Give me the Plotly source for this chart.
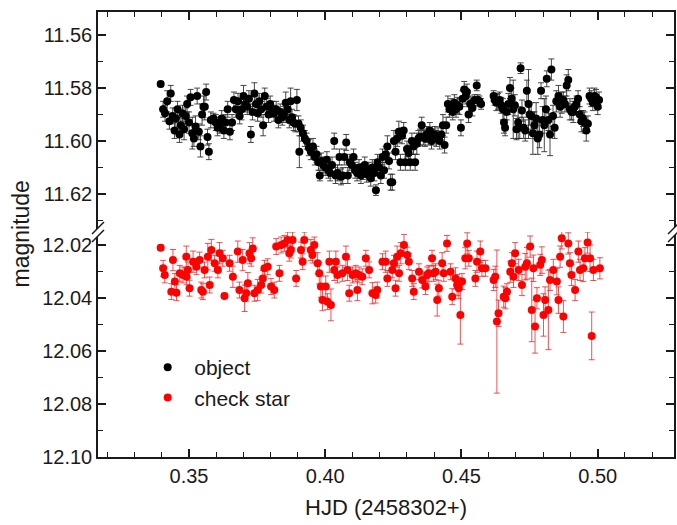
import plotly.graph_objects as go

# ---------------- data ----------------
obj_x = [
    0.3396, 0.3405, 0.3412, 0.3420, 0.3428, 0.3433, 0.3440, 0.3447, 0.3452, 0.3458,
    0.3465, 0.3470, 0.3476, 0.3482, 0.3488, 0.3493, 0.3500, 0.3506, 0.3512, 0.3518,
    0.3524, 0.3530, 0.3536, 0.3542, 0.3548, 0.3553, 0.3558, 0.3563, 0.3568, 0.3573,
    0.3580, 0.3590, 0.3598, 0.3605, 0.3612, 0.3620, 0.3628, 0.3635, 0.3642, 0.3650,
    0.3658, 0.3665, 0.3672, 0.3680, 0.3686, 0.3693, 0.3700, 0.3707, 0.3714, 0.3720,
    0.3727, 0.3733, 0.3740, 0.3746, 0.3752, 0.3758, 0.3765, 0.3772, 0.3778, 0.3785,
    0.3792, 0.3798, 0.3805, 0.3812, 0.3820, 0.3828, 0.3835, 0.3842, 0.3848, 0.3855,
    0.3862, 0.3868, 0.3873, 0.3878, 0.3884, 0.3890, 0.3896, 0.3902, 0.3905, 0.3910,
    0.3918, 0.3925, 0.3932, 0.3940, 0.3947, 0.3955, 0.3962, 0.3968, 0.3975, 0.3980,
    0.3985, 0.3992, 0.4000, 0.4006, 0.4012, 0.4018, 0.4025, 0.4033, 0.4038, 0.4045,
    0.4052, 0.4058, 0.4064, 0.4070, 0.4077, 0.4083, 0.4090, 0.4097, 0.4104, 0.4110,
    0.4117, 0.4124, 0.4131, 0.4138, 0.4145, 0.4152, 0.4160, 0.4167, 0.4173, 0.4180,
    0.4186, 0.4192, 0.4198, 0.4204, 0.4210, 0.4216, 0.4222, 0.4228, 0.4234, 0.4240,
    0.4246, 0.4252, 0.4258, 0.4264, 0.4270, 0.4276, 0.4282, 0.4288, 0.4294, 0.4300,
    0.4306, 0.4312, 0.4318, 0.4324, 0.4330, 0.4336, 0.4342, 0.4348, 0.4354, 0.4360,
    0.4366, 0.4372, 0.4378, 0.4384, 0.4390, 0.4396, 0.4402, 0.4408, 0.4414, 0.4420,
    0.4426, 0.4432, 0.4438, 0.4444, 0.4450, 0.4456, 0.4462, 0.4468, 0.4474, 0.4480,
    0.4486, 0.4492, 0.4498, 0.4504, 0.4510, 0.4516, 0.4520, 0.4526, 0.4532, 0.4540,
    0.4548, 0.4556, 0.4560, 0.4566, 0.4572, 0.4618, 0.4622, 0.4628, 0.4634, 0.4640,
    0.4646, 0.4652, 0.4656, 0.4660, 0.4666, 0.4672, 0.4678, 0.4684, 0.4690, 0.4696,
    0.4702, 0.4708, 0.4714, 0.4717, 0.4722, 0.4728, 0.4734, 0.4740, 0.4746, 0.4750,
    0.4756, 0.4762, 0.4768, 0.4774, 0.4780, 0.4786, 0.4792, 0.4798, 0.4804, 0.4810,
    0.4813, 0.4819, 0.4825, 0.4830, 0.4836, 0.4842, 0.4848, 0.4856, 0.4862, 0.4868,
    0.4874, 0.4880, 0.4886, 0.4892, 0.4898, 0.4904, 0.4910, 0.4916, 0.4922, 0.4928,
    0.4934, 0.4940, 0.4946, 0.4952, 0.4958, 0.4964, 0.4970, 0.4976, 0.4982, 0.4988,
    0.4994, 0.5000, 0.5005,
]
obj_mag = [
    11.5785, 11.5880, 11.5895, 11.5850, 11.5925, 11.5820, 11.5905, 11.5960, 11.5915, 11.5880,
    11.5975, 11.5940, 11.5895, 11.5955, 11.5905, 11.5860, 11.5930, 11.5835, 11.5970, 11.5990,
    11.5945, 11.5830, 11.5965, 11.6020, 11.5900, 11.5870, 11.5870, 11.5815, 11.5985, 11.6040,
    11.5920, 11.5915, 11.5930, 11.5950, 11.5940, 11.5915, 11.5960, 11.5930, 11.5880, 11.5965,
    11.5930, 11.5845, 11.5880, 11.5850, 11.5905, 11.5880, 11.5830, 11.5860, 11.5870, 11.5840,
    11.5975, 11.5890, 11.5820, 11.5860, 11.5895, 11.5850, 11.5880, 11.5940, 11.5830, 11.5870,
    11.5900, 11.5860, 11.5880, 11.5895, 11.5880, 11.5920, 11.5890, 11.5910, 11.5900, 11.5855,
    11.5880, 11.5920, 11.5850, 11.5910, 11.5930, 11.5935, 11.5845, 11.5935, 11.6040, 11.5950,
    11.5970, 11.5990, 11.6000, 11.6025, 11.6040, 11.6020, 11.6060, 11.6050, 11.6080, 11.6130,
    11.6075, 11.6090, 11.6100, 11.6070, 11.6110, 11.6120, 11.6090, 11.6000, 11.6130, 11.6120,
    11.6060, 11.6135, 11.6130, 11.6060, 11.6005, 11.6130, 11.6080, 11.6090, 11.6060, 11.6110,
    11.6120, 11.6100, 11.6130, 11.6115, 11.6090, 11.6125, 11.6110, 11.6140, 11.6100, 11.6120,
    11.6185, 11.6080, 11.6100, 11.6130, 11.6060, 11.6110, 11.6050, 11.6020, 11.6075, 11.6155,
    11.6155, 11.6000, 11.6040, 11.5990, 11.5965, 11.6080, 11.5980, 11.5960, 11.6080, 11.6030,
    11.6045, 11.6080, 11.6000, 11.6020, 11.6080, 11.6010, 11.5990, 11.5985, 11.5940, 11.5985,
    11.5990, 11.5975, 11.5985, 11.5960, 11.6000, 11.5985, 11.5975, 11.5990, 11.5980, 11.6000,
    11.5975, 11.5940, 11.6015, 11.5940, 11.5860, 11.5880, 11.5870, 11.5890, 11.5855, 11.5880,
    11.5865, 11.5870, 11.5950, 11.5840, 11.5805, 11.5830, 11.5815, 11.5900, 11.5860, 11.5875,
    11.5845, 11.5790, 11.5845, 11.5850, 11.5860, 11.5830, 11.5845, 11.5855, 11.5850, 11.5845,
    11.5865, 11.5880, 11.5930, 11.5950, 11.5890, 11.5860, 11.5800, 11.5840, 11.5880, 11.5865,
    11.5955, 11.5930, 11.5950, 11.5725, 11.5885, 11.5950, 11.5960, 11.5810, 11.5860, 11.5900,
    11.5905, 11.5970, 11.5940, 11.5915, 11.5990, 11.5975, 11.5810, 11.5920, 11.5940, 11.5880,
    11.5765, 11.5920, 11.5975, 11.5730, 11.5905, 11.5950, 11.5850, 11.5830, 11.5870, 11.5855,
    11.5845, 11.5860, 11.5790, 11.5770, 11.5880, 11.5890, 11.5890, 11.5870, 11.5860, 11.5840,
    11.5900, 11.5925, 11.5915, 11.5930, 11.5960, 11.5935, 11.5830, 11.5840, 11.5855, 11.5830,
    11.5835, 11.5870, 11.5845,
]
obj_err = [
    0.001, 0.003, 0.003, 0.004, 0.003, 0.003, 0.003, 0.003, 0.004, 0.003,
    0.003, 0.003, 0.003, 0.004, 0.003, 0.003, 0.004, 0.003, 0.006, 0.003,
    0.004, 0.003, 0.003, 0.004, 0.004, 0.004, 0.005, 0.003, 0.003, 0.003,
    0.003, 0.002, 0.003, 0.003, 0.003, 0.003, 0.003, 0.003, 0.003, 0.003,
    0.003, 0.003, 0.003, 0.003, 0.003, 0.004, 0.004, 0.003, 0.003, 0.003,
    0.003, 0.003, 0.004, 0.003, 0.003, 0.003, 0.003, 0.004, 0.003, 0.003,
    0.003, 0.003, 0.003, 0.003, 0.003, 0.003, 0.003, 0.003, 0.003, 0.004,
    0.003, 0.003, 0.005, 0.003, 0.003, 0.003, 0.004, 0.003, 0.006, 0.003,
    0.003, 0.003, 0.003, 0.003, 0.003, 0.003, 0.003, 0.003, 0.003, 0.002,
    0.003, 0.003, 0.003, 0.003, 0.003, 0.003, 0.003, 0.003, 0.003, 0.003,
    0.003, 0.003, 0.003, 0.003, 0.003, 0.003, 0.003, 0.003, 0.003, 0.003,
    0.003, 0.003, 0.003, 0.003, 0.003, 0.003, 0.003, 0.003, 0.003, 0.003,
    0.002, 0.003, 0.003, 0.003, 0.003, 0.003, 0.003, 0.004, 0.003, 0.003,
    0.003, 0.004, 0.003, 0.003, 0.004, 0.003, 0.003, 0.003, 0.003, 0.003,
    0.003, 0.003, 0.003, 0.003, 0.003, 0.004, 0.003, 0.003, 0.003, 0.003,
    0.003, 0.003, 0.003, 0.003, 0.003, 0.003, 0.003, 0.003, 0.003, 0.003,
    0.003, 0.004, 0.003, 0.003, 0.003, 0.003, 0.003, 0.003, 0.003, 0.003,
    0.003, 0.003, 0.003, 0.003, 0.003, 0.003, 0.003, 0.003, 0.003, 0.003,
    0.002, 0.002, 0.002, 0.002, 0.002, 0.002, 0.002, 0.003, 0.003, 0.003,
    0.003, 0.004, 0.004, 0.003, 0.003, 0.004, 0.004, 0.004, 0.011, 0.004,
    0.004, 0.006, 0.004, 0.002, 0.004, 0.004, 0.004, 0.004, 0.013, 0.004,
    0.005, 0.008, 0.005, 0.006, 0.006, 0.005, 0.003, 0.005, 0.010, 0.005,
    0.003, 0.004, 0.008, 0.004, 0.004, 0.004, 0.004, 0.004, 0.004, 0.004,
    0.003, 0.003, 0.004, 0.004, 0.004, 0.003, 0.004, 0.003, 0.003, 0.003,
    0.003, 0.004, 0.003, 0.004, 0.004, 0.003, 0.003, 0.003, 0.003, 0.003,
    0.003, 0.003, 0.003,
]

chk_x = [
    0.3396, 0.3405, 0.3411, 0.3435, 0.3441, 0.3448, 0.3454, 0.3466, 0.3478, 0.3490,
    0.3491, 0.3496, 0.3502, 0.3515, 0.3527, 0.3539, 0.3545, 0.3551, 0.3557, 0.3569,
    0.3576, 0.3582, 0.3594, 0.3606, 0.3612, 0.3624, 0.3630, 0.3649, 0.3661, 0.3679,
    0.3685, 0.3697, 0.3704, 0.3710, 0.3716, 0.3722, 0.3728, 0.3734, 0.3740, 0.3752,
    0.3765, 0.3771, 0.3777, 0.3789, 0.3801, 0.3813, 0.3820, 0.3832, 0.3838, 0.3850,
    0.3862, 0.3868, 0.3874, 0.3880, 0.3893, 0.3911, 0.3917, 0.3923, 0.3947, 0.3953,
    0.3960, 0.3972, 0.3978, 0.3984, 0.3990, 0.4002, 0.4008, 0.4015, 0.4021, 0.4033,
    0.4039, 0.4045, 0.4063, 0.4076, 0.4082, 0.4088, 0.4100, 0.4112, 0.4118, 0.4124,
    0.4136, 0.4149, 0.4161, 0.4173, 0.4185, 0.4191, 0.4210, 0.4222, 0.4228, 0.4246,
    0.4252, 0.4258, 0.4264, 0.4271, 0.4277, 0.4289, 0.4301, 0.4307, 0.4319, 0.4325,
    0.4344, 0.4356, 0.4368, 0.4374, 0.4380, 0.4392, 0.4398, 0.4405, 0.4411, 0.4417,
    0.4429, 0.4435, 0.4447, 0.4460, 0.4466, 0.4478, 0.4484, 0.4490, 0.4496, 0.4502,
    0.4514, 0.4521, 0.4527, 0.4551, 0.4557, 0.4569, 0.4575, 0.4588, 0.4618, 0.4624,
    0.4630, 0.4636, 0.4655, 0.4661, 0.4667, 0.4679, 0.4685, 0.4691, 0.4697, 0.4710,
    0.4722, 0.4734, 0.4740, 0.4752, 0.4758, 0.4764, 0.4770, 0.4777, 0.4789, 0.4795,
    0.4801, 0.4807, 0.4819, 0.4825, 0.4837, 0.4850, 0.4856, 0.4862, 0.4868, 0.4874,
    0.4892, 0.4898, 0.4904, 0.4917, 0.4929, 0.4935, 0.4947, 0.4953, 0.4963, 0.4972,
    0.4978, 0.4984, 0.5008,
]
chk_mag = [
    12.0210, 12.0288, 12.0313, 12.0376, 12.0257, 12.0338, 12.0380, 12.0307, 12.0313, 12.0244,
    12.0320, 12.0294, 12.0363, 12.0263, 12.0282, 12.0257, 12.0370, 12.0376, 12.0294, 12.0244,
    12.0351, 12.0219, 12.0269, 12.0294, 12.0231, 12.0250, 12.0392, 12.0269, 12.0320, 12.0225,
    12.0370, 12.0257, 12.0401, 12.0382, 12.0344, 12.0231, 12.0250, 12.0213, 12.0382, 12.0370,
    12.0351, 12.0326, 12.0288, 12.0282, 12.0357, 12.0370, 12.0206, 12.0307, 12.0200, 12.0194,
    12.0181, 12.0231, 12.0219, 12.0181, 12.0326, 12.0219, 12.0263, 12.0181, 12.0219, 12.0238,
    12.0200, 12.0269, 12.0307, 12.0357, 12.0408, 12.0357, 12.0414, 12.0263, 12.0426, 12.0294,
    12.0263, 12.0313, 12.0307, 12.0244, 12.0294, 12.0382, 12.0313, 12.0307, 12.0370, 12.0313,
    12.0320, 12.0250, 12.0294, 12.0382, 12.0389, 12.0370, 12.0263, 12.0263, 12.0326, 12.0294,
    12.0269, 12.0363, 12.0244, 12.0307, 12.0231, 12.0200, 12.0238, 12.0263, 12.0326, 12.0376,
    12.0301, 12.0332, 12.0357, 12.0313, 12.0307, 12.0250, 12.0307, 12.0301, 12.0408, 12.0363,
    12.0269, 12.0307, 12.0194, 12.0301, 12.0395, 12.0326, 12.0351, 12.0363, 12.0464, 12.0338,
    12.0250, 12.0194, 12.0250, 12.0326, 12.0263, 12.0225, 12.0288, 12.0288, 12.0332, 12.0320,
    12.0489, 12.0458, 12.0395, 12.0401, 12.0376, 12.0301, 12.0269, 12.0320, 12.0231, 12.0294,
    12.0351, 12.0282, 12.0269, 12.0206, 12.0445, 12.0288, 12.0508, 12.0401, 12.0275, 12.0257,
    12.0464, 12.0408, 12.0445, 12.0332, 12.0294, 12.0338, 12.0408, 12.0244, 12.0175, 12.0470,
    12.0194, 12.0269, 12.0313, 12.0370, 12.0225, 12.0294, 12.0288, 12.0250, 12.0191, 12.0250,
    12.0543, 12.0294, 12.0288,
]
chk_err = [
    0.001, 0.003, 0.003, 0.003, 0.004, 0.003, 0.003, 0.003, 0.003, 0.004,
    0.003, 0.003, 0.003, 0.004, 0.003, 0.003, 0.003, 0.003, 0.003, 0.005,
    0.003, 0.004, 0.003, 0.003, 0.004, 0.003, 0.001, 0.003, 0.004, 0.004,
    0.003, 0.004, 0.005, 0.003, 0.004, 0.004, 0.003, 0.004, 0.003, 0.004,
    0.003, 0.003, 0.003, 0.003, 0.003, 0.003, 0.003, 0.003, 0.003, 0.003,
    0.003, 0.003, 0.003, 0.003, 0.003, 0.003, 0.003, 0.003, 0.004, 0.003,
    0.003, 0.004, 0.004, 0.004, 0.004, 0.004, 0.003, 0.004, 0.006, 0.004,
    0.004, 0.003, 0.003, 0.004, 0.004, 0.003, 0.003, 0.003, 0.004, 0.003,
    0.003, 0.003, 0.003, 0.004, 0.003, 0.003, 0.003, 0.004, 0.003, 0.003,
    0.003, 0.003, 0.004, 0.003, 0.004, 0.004, 0.003, 0.003, 0.003, 0.003,
    0.003, 0.003, 0.003, 0.003, 0.003, 0.003, 0.003, 0.003, 0.006, 0.003,
    0.004, 0.003, 0.003, 0.003, 0.003, 0.004, 0.004, 0.004, 0.011, 0.003,
    0.004, 0.004, 0.003, 0.003, 0.004, 0.004, 0.003, 0.003, 0.004, 0.004,
    0.027, 0.005, 0.004, 0.004, 0.003, 0.004, 0.004, 0.004, 0.004, 0.004,
    0.004, 0.005, 0.006, 0.004, 0.012, 0.005, 0.010, 0.004, 0.004, 0.005,
    0.008, 0.005, 0.015, 0.004, 0.004, 0.005, 0.005, 0.004, 0.004, 0.006,
    0.004, 0.004, 0.004, 0.004, 0.004, 0.004, 0.005, 0.004, 0.004, 0.005,
    0.009, 0.004, 0.004,
]

x_title = "HJD (2458302+)"
y_title = "magnitude"
series_names = ["object", "check star"]

# ---------------- layout constants ----------------
W, H = 677, 525
ML, MR, MT, MB = 98, 1, 12, 68
split = 0.5056           # fraction of plot height belonging to lower panel
top_range = [11.6343, 11.5513]
bot_range = [12.1000, 12.0151]
x_range = [0.3166, 0.5280]

FONT = "Arial, Liberation Sans, sans-serif"
INK = "#1a1a1a"

fig = go.Figure()

fig.add_trace(go.Scatter(
    x=obj_x, y=obj_mag, name=series_names[0], mode="markers",
    xaxis="x2", yaxis="y2",
    marker=dict(color="#000000", size=8),
    error_y=dict(type="data", array=obj_err, visible=True,
                 color="rgba(40,40,40,0.85)", thickness=1, width=3),
))
fig.add_trace(go.Scatter(
    x=chk_x, y=chk_mag, name=series_names[1], mode="markers",
    xaxis="x", yaxis="y",
    marker=dict(color="#ff0000", size=8),
    error_y=dict(type="data", array=chk_err, visible=True,
                 color="rgba(235,40,40,0.8)", thickness=1, width=3),
))

tickfont = dict(family=FONT, size=20, color=INK)
minor = dict(dtick=0.01, ticks="inside", ticklen=5, tickcolor=INK, tickwidth=1.2)
common_axis = dict(showline=True, linecolor=INK, linewidth=1.5, ticks="inside",
                   tickcolor=INK, tickwidth=1.5, ticklen=8, showgrid=False,
                   zeroline=False, tickfont=tickfont)

fig.update_layout(
    width=W, height=H,
    margin=dict(l=ML, r=MR, t=MT, b=MB),
    paper_bgcolor="white", plot_bgcolor="white",
    showlegend=True,
    legend=dict(x=0.075, y=0.247, xanchor="left", yanchor="top",
                bgcolor="rgba(0,0,0,0)", font=dict(family=FONT, size=21, color=INK),
                itemwidth=43, tracegroupgap=0),
    xaxis=dict(domain=[0, 1], anchor="y", range=x_range, dtick=0.05, tick0=0.35,
               tickformat=".2f", mirror=False, minor=minor, **common_axis),
    xaxis2=dict(domain=[0, 1], anchor="y2", side="top", matches="x", range=x_range,
                dtick=0.05, tick0=0.35, showticklabels=False, mirror=False,
                minor=minor, **common_axis),
    yaxis=dict(domain=[0, split], anchor="x", range=bot_range, dtick=0.02, tick0=12.02,
               tickformat=".2f", mirror="ticks", minor=minor, **common_axis),
    yaxis2=dict(domain=[split, 1], anchor="x2", range=top_range, dtick=0.02, tick0=11.56,
                tickformat=".2f", mirror="ticks", minor=minor, **common_axis),
)

# axis titles
fig.add_annotation(text=x_title, xref="paper", yref="paper", x=0.5, y=0,
                   xanchor="center", yanchor="top", yshift=-36, showarrow=False,
                   font=dict(family=FONT, size=22, color=INK))
fig.add_annotation(text=y_title, xref="paper", yref="paper", x=0, y=0.5,
                   xanchor="right", yanchor="middle", xshift=-63, textangle=-90,
                   showarrow=False, font=dict(family=FONT, size=23, color=INK))

# axis-break marks "//" on the left and right axis lines
pw = W - ML - MR
ph = H - MT - MB
dx = 6 / pw
dy = 6 / ph
off = 4 / ph
for xc in (0.0, 1.0):
    fig.add_shape(type="path", xref="paper", yref="paper",
                  path=(f"M {xc-dx},{split-off-dy} L {xc+dx},{split-off+dy} "
                        f"L {xc+dx},{split+off+dy} L {xc-dx},{split+off-dy} Z"),
                  fillcolor="white", line=dict(width=0), layer="above")
    for s in (-off, off):
        fig.add_shape(type="line", xref="paper", yref="paper",
                      x0=xc - dx, y0=split + s - dy, x1=xc + dx, y1=split + s + dy,
                      line=dict(color=INK, width=1.5), layer="above")

# remove the browser's default 8px page margin so the figure fills the window exactly
fig.write_html("out.html",
               config={"displayModeBar": False},
               post_script="document.body.style.margin='0';document.body.style.overflow='hidden';")
